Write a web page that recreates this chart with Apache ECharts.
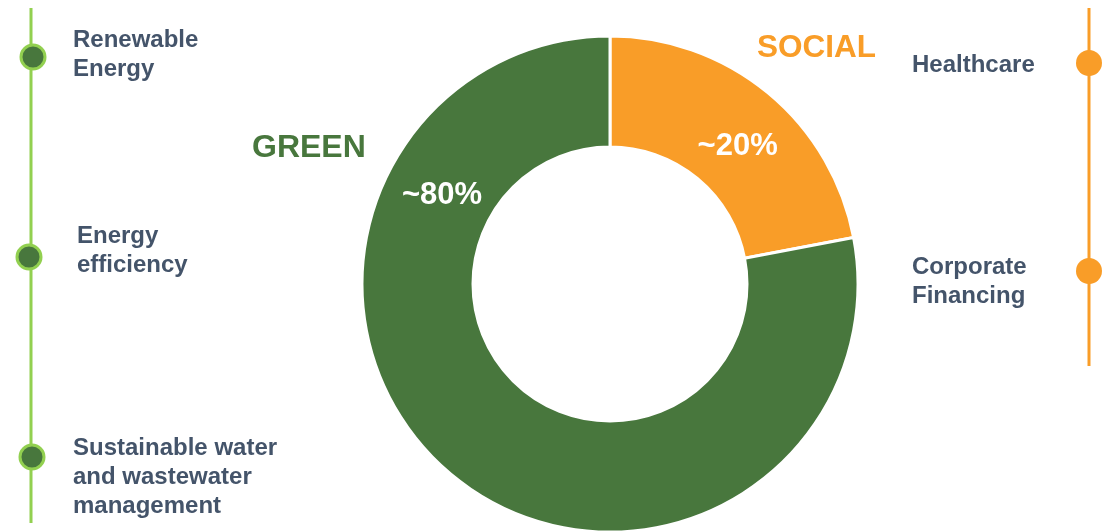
<!DOCTYPE html>
<html>
<head>
<meta charset="utf-8">
<script src="https://cdn.jsdelivr.net/npm/echarts@6/dist/echarts.min.js"></script>
<style>
  html, body { margin: 0; padding: 0; background: #fff; }
  #main { width: 1107px; height: 531px; }
</style>
</head>
<body>
<div id="main"></div>
<script>
var myChart = echarts.init(document.getElementById("main"));

// shares
var categories = ["SOCIAL", "GREEN"];
var shares = [22, 78];
var shareLabels = ["~20%", "~80%"];
var greenItems = ["Renewable\nEnergy", "Energy\nefficiency", "Sustainable water\nand wastewater\nmanagement"];
var socialItems = ["Healthcare", "Corporate\nFinancing"];

var GREEN = '#48773d';
var ORANGE = '#f99d28';
var LIGHT_GREEN = '#92d050';
var TEXT = '#44546a';
var FONT = 'Liberation Sans';

function txt(x, y, s, color, size, extra) {
    var style = { text: s, fill: color, fontSize: size, fontWeight: 'bold',
        fontFamily: FONT, verticalAlign: 'middle', align: 'left' };
    for (var k in extra) style[k] = extra[k];
    return { type: 'text', x: x, y: y, z: 100, style: style };
}

var graphics = [];

// left timeline
graphics.push({ type: 'line', shape: { x1: 31, y1: 8, x2: 31, y2: 523 },
    style: { stroke: LIGHT_GREEN, lineWidth: 3 } });
var greenDots = [[33, 57, 73, 55], [29, 257, 77, 251], [32, 457, 73, 477]];
greenItems.forEach(function (t, i) {
    var d = greenDots[i];
    graphics.push({ type: 'circle', shape: { cx: d[0], cy: d[1], r: 12 },
        style: { fill: GREEN, stroke: LIGHT_GREEN, lineWidth: 3 } });
    graphics.push(txt(d[2], d[3], t, TEXT, 24, { lineHeight: 29 }));
});

// right timeline
graphics.push({ type: 'line', shape: { x1: 1089, y1: 8, x2: 1089, y2: 366 },
    style: { stroke: ORANGE, lineWidth: 3 } });
var socialDots = [[1089, 63, 912, 65], [1089, 271, 912, 282]];
socialItems.forEach(function (t, i) {
    var d = socialDots[i];
    graphics.push({ type: 'circle', shape: { cx: d[0], cy: d[1], r: 13 },
        style: { fill: ORANGE } });
    graphics.push(txt(d[2], d[3], t, TEXT, 24, { lineHeight: 29 }));
});

// segment titles
graphics.push(txt(252, 148, categories[1], GREEN, 32));
graphics.push(txt(757, 48, categories[0], ORANGE, 31.5));
// green share label sits in the upper-left of the ring
graphics.push(txt(442, 195, shareLabels[1], '#fff', 31, { align: 'center' }));

var option = {
    animation: false,
    graphic: graphics,
    series: [{
        type: 'pie',
        center: [610, 284],
        radius: [137, 248],
        startAngle: 90,
        clockwise: true,
        silent: true,
        itemStyle: { borderColor: '#fff', borderWidth: 3 },
        labelLine: { show: false },
        data: categories.map(function (c, i) {
            return {
                name: c,
                value: shares[i],
                itemStyle: { color: i === 0 ? ORANGE : GREEN },
                label: {
                    show: i === 0,
                    position: 'inside',
                    formatter: shareLabels[i],
                    color: '#fff',
                    fontSize: 31,
                    fontWeight: 'bold',
                    fontFamily: FONT,
                    offset: [3, 13]
                }
            };
        })
    }]
};
myChart.setOption(option);
</script>
</body>
</html>
